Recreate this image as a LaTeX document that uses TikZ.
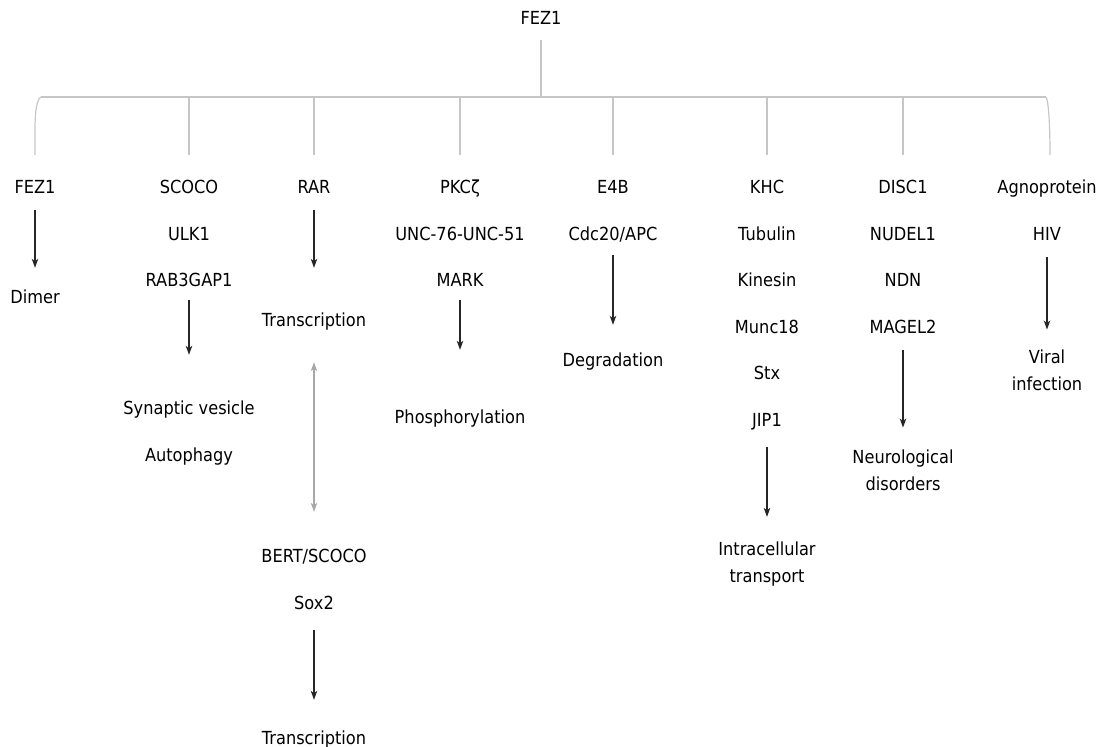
\documentclass[tikz,border=0pt]{standalone}
\usepackage{fontspec}
\setmainfont{DejaVu Sans}[FakeStretch=0.9]
\usetikzlibrary{arrows.meta}
\definecolor{treegray}{RGB}{198,198,198}
\definecolor{arrgray}{RGB}{168,168,168}
\begin{document}
\begin{tikzpicture}[x=1pt,y=-1pt,
  lbl/.style={font=\fontsize{18}{27}\selectfont, inner sep=0pt, text height=13pt, text depth=4pt, anchor=base},
  lbltwo/.style={font=\fontsize{18}{27}\selectfont, inner sep=0pt, align=center},
  tree/.style={draw=treegray, line width=1.2pt},
  arr/.style={-{Stealth[length=9pt,width=6.5pt,inset=2.5pt]}, line width=1.1pt, draw=black!85},
  garr/.style={{Stealth[length=9pt,width=6.5pt,inset=2.5pt]}-{Stealth[length=9pt,width=6.5pt,inset=2.5pt]}, line width=1.1pt, draw=arrgray}]
\useasboundingbox (0,0) rectangle (1096,747);
% top
\node[lbl] (top) at (541,24.5) {FEZ1};
% row 1
\node[lbl] (f1) at (35,193.5) {FEZ1};
\node[lbl] (scoco) at (189,193.5) {SCOCO};
\node[lbl] (rar) at (314,193.5) {RAR};
\node[lbl] (pkc) at (460,193.5) {PKCζ};
\node[lbl] (e4b) at (613,193.5) {E4B};
\node[lbl] (khc) at (767,193.5) {KHC};
\node[lbl] (disc) at (903,193.5) {DISC1};
\node[lbl] (agno) at (1047,193.5) {Agnoprotein};
% row 2
\node[lbl] (ulk) at (189,240.5) {ULK1};
\node[lbl] (unc) at (460,240.5) {UNC-76-UNC-51};
\node[lbl] (cdc) at (613,240.5) {Cdc20/APC};
\node[lbl] (tub) at (767,240.5) {Tubulin};
\node[lbl] (nudel) at (903,240.5) {NUDEL1};
\node[lbl] (hiv) at (1047,240.5) {HIV};
% row 3
\node[lbl] (rab) at (189,286.5) {RAB3GAP1};
\node[lbl] (mark) at (460,286.5) {MARK};
\node[lbl] (kin) at (767,286.5) {Kinesin};
\node[lbl] (ndn) at (903,286.5) {NDN};
% row 4+
\node[lbl] (munc) at (767,333.5) {Munc18};
\node[lbl] (magel) at (903,333.5) {MAGEL2};
\node[lbl] (stx) at (767,379.5) {Stx};
\node[lbl] (jip) at (767,426.5) {JIP1};
% outcomes
\node[lbl] (dimer) at (35,303.5) {Dimer};
\node[lbl] (syn) at (189,414.5) {Synaptic vesicle};
\node[lbl] (auto) at (189,461.5) {Autophagy};
\node[lbl] (trans1) at (314,326.5) {Transcription};
\node[lbl] (phos) at (460,423.5) {Phosphorylation};
\node[lbl] (degr) at (613,366.5) {Degradation};
\node[lbl] (bert) at (314,562.5) {BERT/SCOCO};
\node[lbl] (sox) at (314,609.5) {Sox2};
\node[lbl] (trans2) at (314,744.5) {Transcription};
\node[lbltwo] (intra) at (767,564.3) {Intracellular\\transport};
\node[lbltwo] (neuro) at (903,470.2) {Neurological\\disorders};
\node[lbltwo] (viral) at (1047,370.2) {Viral\\infection};
% tree
\coordinate (j) at (541,97);
\coordinate (hl) at (41,97);
\coordinate (hr) at (1046,97);
\coordinate (rb) at (1050,155);
\draw[tree, shorten <=11.5pt] (top) -- (j);
\draw[tree] (hl) -- (hr);
\draw[tree, shorten >=25.5pt] (hl) .. controls (37,99) and (35,110) .. (35,130) -- (f1);
\draw[tree] (hr) .. controls (1049,102) and (1050,130) .. (rb);
\foreach \n in {scoco,rar,pkc,e4b,khc,disc}
  \draw[tree, shorten >=25.5pt] (\n |- j) -- (\n);
% arrows
\draw[arr, shorten <=12.5pt, shorten >=22.5pt] (f1) -- (dimer);
\draw[arr, shorten <=9.5pt, shorten >=46.5pt] (rab) -- (syn);
\draw[arr, shorten <=12.5pt, shorten >=45.5pt] (rar) -- (trans1);
\draw[garr, shorten <=31.5pt, shorten >=37.5pt] (trans1) -- (bert);
\draw[arr, shorten <=16.5pt, shorten >=31.5pt] (sox) -- (trans2);
\draw[arr, shorten <=9.5pt, shorten >=60.5pt] (mark) -- (phos);
\draw[arr, shorten <=10.5pt, shorten >=28.5pt] (cdc) -- (degr);
\draw[arr, shorten <=16.5pt, shorten >=25pt] (jip) -- (intra);
\draw[arr, shorten <=12.5pt, shorten >=22pt] (magel) -- (neuro);
\draw[arr, shorten <=12.5pt, shorten >=20pt] (hiv) -- (viral);
\end{tikzpicture}
\end{document}
